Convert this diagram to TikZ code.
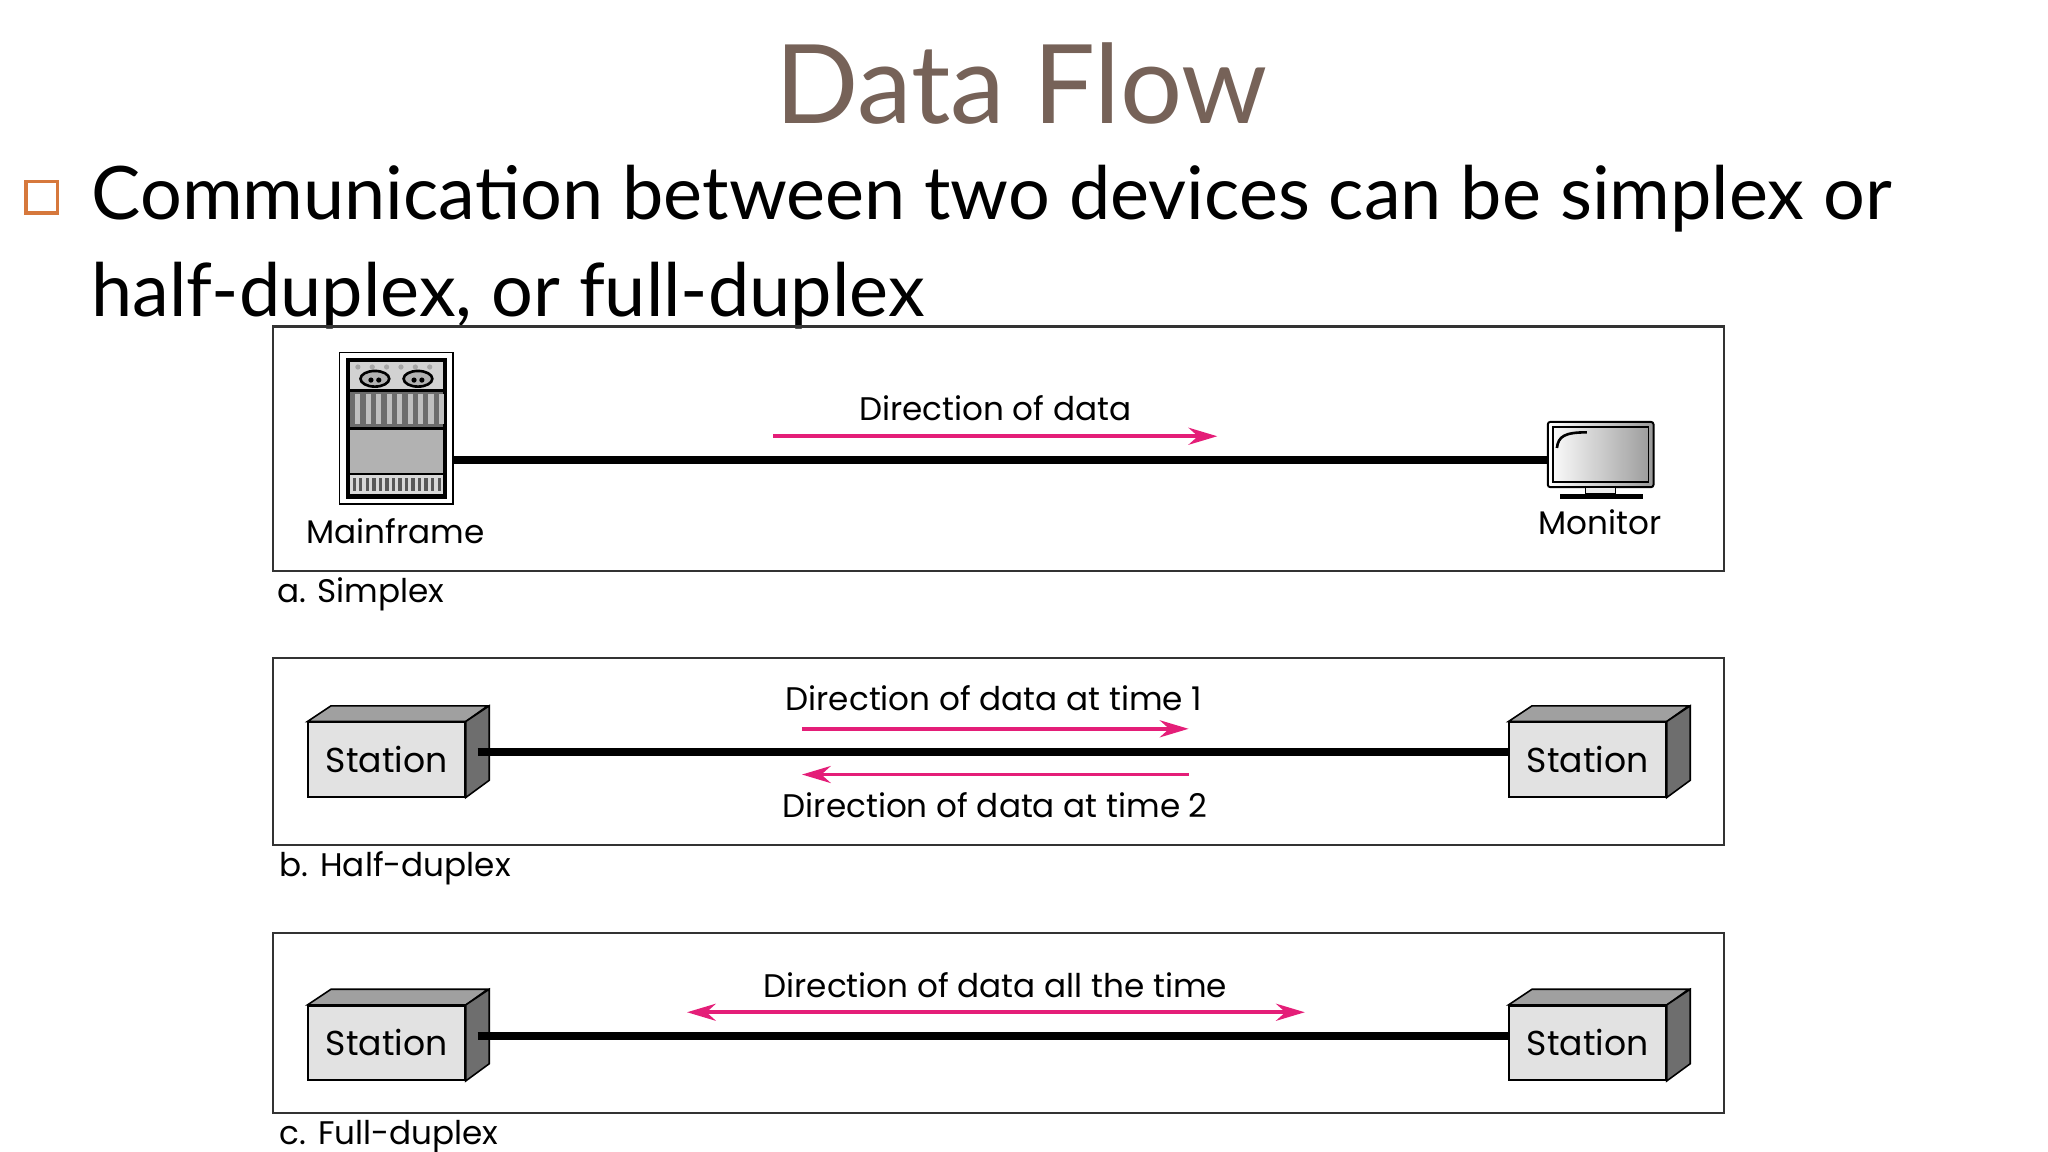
\documentclass[tikz,border=0pt]{standalone}
\usepackage{fontspec}
\setmainfont{Lato}
\newfontfamily\labfont{Poppins}
\usetikzlibrary{arrows.meta}
\definecolor{titlec}{RGB}{118,98,88}
\definecolor{bul}{RGB}{214,120,60}
\definecolor{pk}{RGB}{228,30,120}
\definecolor{stf}{RGB}{226,226,226}
\definecolor{sts}{RGB}{110,110,110}
\definecolor{stt}{RGB}{160,160,160}
\tikzset{
 panel/.style={draw=black!80,line width=1.6pt},
 wire/.style={line width=6pt},
 darr/.style={draw=pk,line width=3pt,-{Stealth[length=22pt,width=13pt]}},
 lbl/.style={font=\labfont\fontsize{25}{28}\selectfont},
 stfront/.style={draw=black,fill=stf,line width=1.2pt,minimum width=120pt,minimum height=57pt,inner sep=0pt,font=\labfont\fontsize{26.5}{28}\selectfont},
}
\newcommand{\mystation}[2]{%
 \node[stfront] (#1) at (#2) {Station};
 \filldraw[fill=stt,draw=black,line width=1.2pt] (#1.north west)--++(18,-12)--++(120,0)--(#1.north east)--cycle;
 \filldraw[fill=sts,draw=black,line width=1.2pt] (#1.north east)--++(18,-12)--++(0,57)--(#1.south east)--cycle;
}
\begin{document}
\begin{tikzpicture}[x=1pt,y=-1pt]
\useasboundingbox (0,0) rectangle (1568,882);
\node[text=titlec,font=\fontsize{84}{90}\selectfont] (title) at (782,64) {Data Flow};
\node[draw=bul,line width=2.5pt,minimum size=24pt,inner sep=0pt] (bullet) at (32,151) {};
\node[anchor=base west,font=\fontsize{56.5}{60}\selectfont,inner sep=0pt] (l1) at (70,168) {Communication between two devices can be simplex or};
\node[anchor=base west,font=\fontsize{56.5}{60}\selectfont,inner sep=0pt] (l2) at (70,242) {half-duplex, or full-duplex};
% panel a
\draw[panel] (209,250) rectangle (1320,437);
\node[anchor=base west,lbl,inner sep=0pt] (pa) at (212,461) {a. Simplex};
% mainframe
\node[draw=black,fill=white,line width=1.2pt,minimum width=87pt,minimum height=116pt,inner sep=0pt] (mf) at (303.5,328) {};
\fill[black] (265,274) rectangle (342,382);
\fill[gray!35] (268,277) rectangle (339,298);
\foreach \x in {274,285,296,307,318,329}{\fill[gray!70] (\x,281) circle (2);}
\foreach \x in {287,320}{\draw[black,line width=2pt,fill=gray!60] (\x,290) ellipse (11 and 6); \fill[black] (\x-3,291) circle (2); \fill[black] (\x+3,291) circle (2);}
\fill[gray!85!black] (268,300) rectangle (339,327);
\foreach \x in {272,280,...,336}{\fill[gray!50] (\x,302) rectangle (\x+4,325);}
\fill[gray!60] (268,329) rectangle (339,362);
\fill[gray!30] (268,364) rectangle (339,378);
\foreach \x in {270,275,...,336}{\fill[gray!70!black] (\x,366) rectangle (\x+2.5,376);}
\node[anchor=base,lbl,inner sep=0pt] (mfl) at (303,416) {Mainframe};
% monitor
\node[draw=black,line width=1.5pt,rounded corners=2pt,minimum width=81pt,minimum height=50pt,inner sep=0pt,left color=white,right color=gray!80] (mon) at (1225.5,348) {};
\draw[black,line width=1pt] (1189,327) rectangle (1262,369);
\draw[black,line width=2pt] (1192,343) .. controls (1193,334) and (1198,331) .. (1215,331);
\draw[black,fill=gray!15,line width=1pt] (1214,373) rectangle (1237,378);
\fill[black] (1194,378) rectangle (1258,382);
\node[anchor=base,lbl,inner sep=0pt] (monl) at (1225,409) {Monitor};
\draw[wire] (mf.east|-0,352) -- (mon.west|-0,352);
\coordinate (a1) at (592,334); \coordinate (a2) at (932,334);
\draw[darr] (a1) -- (a2);
\node[anchor=base,lbl,inner sep=0pt] (ta) at (762,322) {Direction of data};
% panel b
\draw[panel] (209,504) rectangle (1320,647);
\node[anchor=base west,lbl,inner sep=0pt] (pb) at (214,671) {b. Half-duplex};
\mystation{sb1}{296,581.5}
\mystation{sb2}{1215.5,581.5}
\draw[wire] ([xshift=9pt]sb1.east|-0,576) -- (sb2.west|-0,576);
\coordinate (b1) at (614,558); \coordinate (b2) at (910,558);
\coordinate (b3) at (910,593); \coordinate (b4) at (614,593);
\draw[darr] (b1) -- (b2);
\draw[darr] (b3) -- (b4);
\node[anchor=base,lbl,inner sep=0pt] (tb1) at (761,544) {Direction of data at time 1};
\node[anchor=base,lbl,inner sep=0pt] (tb2) at (762,626) {Direction of data at time 2};
% panel c
\draw[panel] (209,714) rectangle (1320,852);
\node[anchor=base west,lbl,inner sep=0pt] (pc) at (214,876) {c. Full-duplex};
\mystation{sc1}{296,798.5}
\mystation{sc2}{1215.5,798.5}
\draw[wire] ([xshift=9pt]sc1.east|-0,793) -- (sc2.west|-0,793);
\coordinate (c1) at (526,775); \coordinate (c2) at (999,775);
\draw[darr,{Stealth[length=22pt,width=13pt]}-{Stealth[length=22pt,width=13pt]}] (c1) -- (c2);
\node[anchor=base,lbl,inner sep=0pt] (tc) at (762,764) {Direction of data all the time};
\end{tikzpicture}
\end{document}
